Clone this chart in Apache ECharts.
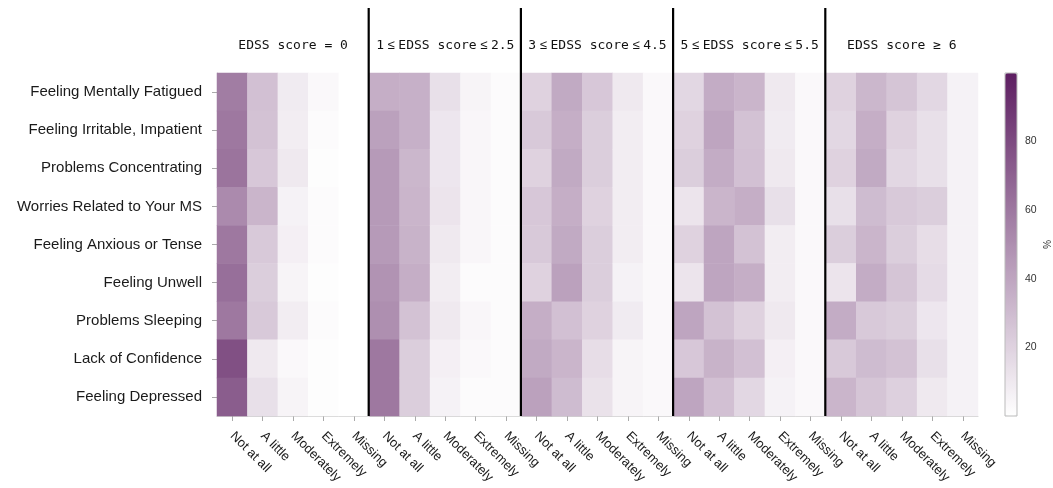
<!DOCTYPE html>
<html>
<head>
<meta charset="utf-8">
<script src="https://cdn.jsdelivr.net/npm/echarts@6/dist/echarts.min.js"></script>
<style>html,body{margin:0;padding:0;background:#fff}#c{width:1053px;height:488px}</style>
</head>
<body>
<div id="c"></div>
<script>
const symptoms = ['Feeling Mentally Fatigued','Feeling Irritable, Impatient','Problems Concentrating','Worries Related to Your MS','Feeling Anxious or Tense','Feeling Unwell','Problems Sleeping','Lack of Confidence','Feeling Depressed'];
const responses = ['Not at all','A little','Moderately','Extremely','Missing'];
const panelTitles = ['EDSS score = 0','1 ≤ EDSS score ≤ 2.5','3 ≤ EDSS score ≤ 4.5','5 ≤ EDSS score ≤ 5.5','EDSS score ≥ 6'];
const colorbarTicks = [20, 40, 60, 80];

// each panel: rows = responses, columns = symptoms (top to bottom), values in %
const edss0 = [
  [58, 60, 62, 52, 60, 64, 60, 78, 72],
  [28, 27, 25, 33, 24, 22, 24, 10, 14],
  [9, 8, 10, 6, 7, 5, 8, 3, 5],
  [3, 2, 1, 2, 2, 1, 2, 1, 1],
  [0, 0, 0, 0, 0, 0, 0, 0, 0]
];
const edss1to25 = [
  [36, 42, 45, 45, 45, 48, 50, 60, 60],
  [35, 35, 32, 33, 34, 36, 27, 22, 22],
  [14, 11, 11, 12, 10, 8, 10, 7, 6],
  [5, 4, 4, 4, 4, 2, 4, 3, 2],
  [2, 2, 2, 2, 2, 2, 2, 2, 2]
];
const edss3to45 = [
  [20, 24, 20, 25, 24, 20, 36, 38, 42],
  [38, 36, 38, 36, 38, 42, 28, 33, 30],
  [25, 22, 22, 20, 22, 22, 20, 15, 13],
  [10, 8, 8, 8, 8, 6, 9, 5, 5],
  [3, 3, 3, 3, 3, 3, 3, 3, 3]
];
const edss5to55 = [
  [18, 20, 22, 12, 20, 12, 40, 25, 40],
  [37, 40, 37, 33, 40, 40, 27, 34, 28],
  [33, 27, 28, 36, 27, 36, 20, 28, 18],
  [10, 9, 10, 14, 8, 8, 10, 7, 6],
  [3, 3, 3, 3, 3, 3, 3, 3, 3]
];
const edss6plus = [
  [20, 18, 20, 14, 22, 12, 37, 24, 33],
  [32, 36, 38, 30, 33, 37, 24, 30, 26],
  [26, 20, 18, 24, 22, 26, 22, 27, 21],
  [18, 14, 14, 22, 15, 16, 11, 14, 10],
  [6, 6, 6, 6, 6, 6, 6, 6, 6]
];

const panels = [edss0, edss1to25, edss3to45, edss5to55, edss6plus];
const xCats = [];
panels.forEach((p, pi) => responses.forEach((r, ri) => xCats.push(String(pi * responses.length + ri))));
const heat = [];
panels.forEach((panel, pi) => {
  panel.forEach((row, ri) => {
    row.forEach((v, si) => heat.push([pi * responses.length + ri, si, v]));
  });
});

const chart = echarts.init(document.getElementById('c'), null, {renderer: 'canvas'});
const labelFont = 'Liberation Sans, Arial, sans-serif';
const monoFont = 'DejaVu Sans Mono, monospace';
chart.setOption({
  animation: false,
  backgroundColor: '#ffffff',
  grid: [
    {left: 217, right: 75, top: 73, bottom: 72},
    {left: 1005, top: 73, width: 12, height: 343, show: true, borderColor: '#bbbbbb', borderWidth: 1, backgroundColor: 'transparent', z: 5}
  ],
  xAxis: [
    {
      type: 'category', gridIndex: 0, data: xCats, position: 'bottom',
      axisLine: {show: true, lineStyle: {color: '#d0d0d0'}},
      axisTick: {show: true, alignWithLabel: true, length: 5, lineStyle: {color: '#aaaaaa'}},
      axisLabel: {rotate: -45, margin: 18, padding: [16, 0, 0, 0], fontSize: 13, color: '#1a1a1a', fontFamily: labelFont, interval: 0,
        formatter: (v, i) => responses[i % responses.length]},
      splitLine: {show: false}
    },
    {type: 'value', gridIndex: 1, show: false, min: 0, max: 1},
    {
      type: 'category', gridIndex: 0, data: panelTitles, position: 'top',
      axisLine: {show: false}, axisTick: {show: false}, splitLine: {show: false},
      axisLabel: {
        margin: 21, fontSize: 13, color: '#111', fontFamily: monoFont, interval: 0,
        formatter: v => v.indexOf('≤') >= 0 ? v.split(' ≤ ').join('{s| ≤ }') : v,
        rich: {s: {fontSize: 13, color: '#111', fontFamily: labelFont}}
      }
    }
  ],
  yAxis: [
    {
      type: 'category', gridIndex: 0, data: symptoms, inverse: true,
      axisLine: {show: true, lineStyle: {color: '#d0d0d0'}},
      axisTick: {show: true, alignWithLabel: true, length: 5, lineStyle: {color: '#aaaaaa'}},
      axisLabel: {margin: 15, fontSize: 15, color: '#1a1a1a', fontFamily: labelFont},
      splitLine: {show: false}
    },
    {
      type: 'value', gridIndex: 1, min: 0, max: 100, interval: 20, position: 'right',
      axisLine: {show: false},
      axisTick: {show: true, length: 4, lineStyle: {color: '#777'}},
      axisLabel: {margin: 8, fontSize: 10.5, color: '#333', fontFamily: labelFont, showMinLabel: false, showMaxLabel: false,
        formatter: v => (colorbarTicks.indexOf(v) >= 0 ? String(v) : '')},
      splitLine: {show: false},
      name: '%', nameLocation: 'middle', nameGap: 23, nameRotate: -90,
      nameTextStyle: {fontSize: 10, color: '#333', fontFamily: labelFont}
    }
  ],
  visualMap: {
    type: 'continuous', min: 0, max: 100, seriesIndex: 0, dimension: 2,
    calculable: false, orient: 'vertical', left: 1005, top: 73, itemWidth: 12, itemHeight: 343,
    padding: 0, text: null, showLabel: false, hoverLink: false,
    inRange: {color: ['#ffffff', '#5d1e61']}
  },
  series: [{
    type: 'heatmap', xAxisIndex: 0, yAxisIndex: 0, data: heat,
    itemStyle: {borderWidth: 0},
    emphasis: {disabled: true}, progressive: 0
  }]
});

// panel separators placed from the axis scale
const yTop = 8;
const gridBottomY = chart.convertToPixel({yAxisIndex: 0}, symptoms.length - 1) + (chart.convertToPixel({yAxisIndex: 0}, 1) - chart.convertToPixel({yAxisIndex: 0}, 0)) / 2;
const lines = [];
for (let p = 1; p < panels.length; p++) {
  const a = chart.convertToPixel({xAxisIndex: 0}, p * responses.length - 1);
  const b = chart.convertToPixel({xAxisIndex: 0}, p * responses.length);
  const x = (a + b) / 2 - 0.5;
  lines.push({type: 'line', z: 100, shape: {x1: x, y1: yTop, x2: x, y2: gridBottomY}, style: {stroke: '#000', lineWidth: 2.2}});
}
chart.setOption({graphic: lines});
</script>
</body>
</html>
